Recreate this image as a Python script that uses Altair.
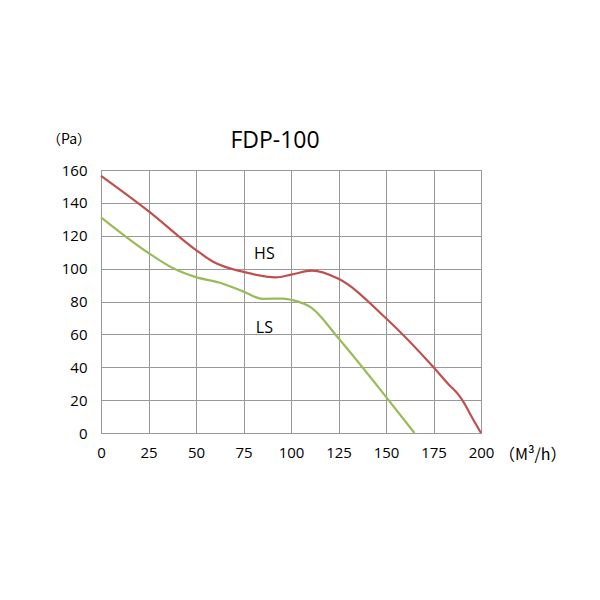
import pandas as pd
import altair as alt

# ==================== data ====================
HS_FLOW = [0, 25, 50, 59, 75, 92, 100, 111, 125, 150, 175, 183, 188, 191, 195, 200]
HS_PRESSURE = [156.5, 135, 111.3, 104.2, 98, 94.7, 96.3, 98.8, 93.8, 69.8, 40, 29.5, 23.5, 18.5, 10, 0]

LS_FLOW = [0, 25, 38, 50, 63, 75, 85, 96, 101, 111, 125, 150, 165]
LS_PRESSURE = [131.2, 109.5, 100.2, 94.8, 91.3, 86, 81.6, 81.8, 80.8, 76, 57.6, 22, 0]

X_TICKS = [0, 25, 50, 75, 100, 125, 150, 175, 200]
Y_TICKS = [0, 20, 40, 60, 80, 100, 120, 140, 160]

LABELS = ["HS", "LS"]
LABEL_X = [86, 86]
LABEL_Y = [109, 64]

TITLE = "FDP-100"
Y_UNIT = "（Pa）"
X_UNIT = "（M³/h）"

RED = "#C0504D"
GREEN = "#9BBB59"
FONT = "Open Sans"
W, H = 380, 263

df_hs = pd.DataFrame({"flow": HS_FLOW, "pressure": HS_PRESSURE})
df_ls = pd.DataFrame({"flow": LS_FLOW, "pressure": LS_PRESSURE})
df_lab = pd.DataFrame({"label": LABELS, "flow": LABEL_X, "pressure": LABEL_Y})

AXIS_STYLE = dict(ticks=False, domain=False, labelOverlap=False,
                  labelFontSize=15, labelFont=FONT, labelColor="#000",
                  gridColor="#999", gridOpacity=1)

x_enc = alt.X(
    "flow:Q", title=None,
    scale=alt.Scale(domain=[0, 200], nice=False),
    axis=alt.Axis(values=X_TICKS, labelPadding=12, labelFlush=False, **AXIS_STYLE),
)
y_enc = alt.Y(
    "pressure:Q", title=None,
    scale=alt.Scale(domain=[0, 160], nice=False),
    axis=alt.Axis(values=Y_TICKS, labelPadding=14, labelFlush=False, **AXIS_STYLE),
)

hs = alt.Chart(df_hs).mark_line(color=RED, strokeWidth=2.2, interpolate="monotone").encode(
    x=x_enc, y=y_enc
)
ls = alt.Chart(df_ls).mark_line(color=GREEN, strokeWidth=2.2, interpolate="monotone").encode(
    x=x_enc, y=y_enc
)
labels = alt.Chart(df_lab).mark_text(fontSize=16, font=FONT, align="center", baseline="middle").encode(
    x=x_enc, y=y_enc, text="label:N"
)

# title and unit labels around the plot
title = alt.Chart(pd.DataFrame({"t": [TITLE]})).mark_text(
    fontSize=23, font=FONT, align="center", baseline="middle"
).encode(x=alt.value(W / 2 - 16), y=alt.value(-29), text="t:N")
pa = alt.Chart(pd.DataFrame({"t": [Y_UNIT]})).mark_text(
    fontSize=14, font="Noto Sans CJK JP", align="left", baseline="middle"
).encode(x=alt.value(-54), y=alt.value(-30), text="t:N")
m3h = alt.Chart(pd.DataFrame({"t": [X_UNIT]})).mark_text(
    fontSize=16, font="Noto Sans CJK JP", align="left", baseline="middle"
).encode(x=alt.value(W + 18), y=alt.value(H + 22), text="t:N")

chart = alt.layer(hs, ls, labels, title, pa, m3h).properties(
    width=W,
    height=H,
    background="white",
    autosize=alt.AutoSizeParams(type="none"),
    padding={"left": 93, "top": 162, "right": 100, "bottom": 150},
).configure_view(stroke="#999", strokeWidth=1)

chart.save("out.html", embed_options={"renderer": "svg", "actions": False})
